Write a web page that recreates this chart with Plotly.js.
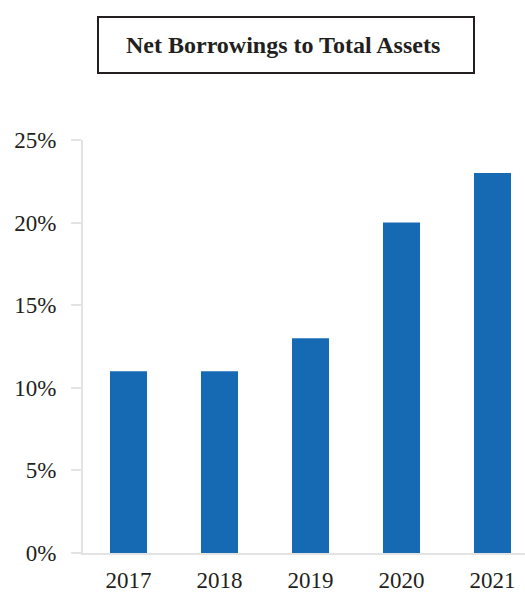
<!DOCTYPE html>
<html>
<head>
<meta charset="utf-8">
<script src="https://cdn.plot.ly/plotly-3.0.1.min.js"></script>
<style>
  html, body { margin: 0; padding: 0; background: #ffffff; }
  #chart { width: 525px; height: 592px; }
</style>
</head>
<body>
<div id="chart"></div>
<script>
// Net borrowings as a share of total assets, by fiscal year
const years = ['2017', '2018', '2019', '2020', '2021'];
const ratioPct = [11, 11, 13, 20, 23];
const yTicks = [0, 5, 10, 15, 20, 25];
const chartTitle = 'Net Borrowings to Total Assets';

const W = 525, H = 592;
const M = { l: 83, r: 0, t: 140, b: 39 };
const plotW = W - M.l - M.r;
const plotH = H - M.t - M.b;
// pixel position -> paper fraction, for the framed heading
const px = x => (x - M.l) / plotW;
const py = y => (H - M.b - y) / plotH;

const ink = '#231f20';
const axisGrey = '#e3e3e3';
const serif = '"Liberation Serif", "Times New Roman", serif';

const trace = {
  type: 'bar',
  x: years,
  y: ratioPct,
  marker: { color: '#166ab4' },
  hoverinfo: 'skip'
};

const layout = {
  width: W,
  height: H,
  margin: M,
  paper_bgcolor: '#ffffff',
  plot_bgcolor: '#ffffff',
  showlegend: false,
  bargap: 0.593,
  font: { family: serif, color: ink, size: 23 },
  xaxis: {
    type: 'category',
    range: [-0.5, 4.357],
    showline: true,
    linecolor: axisGrey,
    linewidth: 2,
    showgrid: false,
    zeroline: false,
    ticks: '',
    ticklabelstandoff: 5,
    tickfont: { family: serif, size: 23, color: ink },
    fixedrange: true
  },
  yaxis: {
    range: [0, 25],
    tickvals: yTicks,
    ticktext: yTicks.map(v => v + '%'),
    showline: true,
    linecolor: axisGrey,
    linewidth: 2,
    ticks: 'outside',
    ticklen: 10,
    tickwidth: 2,
    tickcolor: axisGrey,
    ticklabelstandoff: 10,
    showgrid: false,
    zeroline: false,
    tickfont: { family: serif, size: 23, color: ink },
    fixedrange: true
  },
  shapes: [{
    type: 'rect',
    xref: 'paper', yref: 'paper',
    x0: px(98), x1: px(474),
    y0: py(73), y1: py(17),
    line: { color: ink, width: 2 },
    fillcolor: 'rgba(0,0,0,0)',
    layer: 'above'
  }],
  annotations: [{
    xref: 'paper', yref: 'paper',
    x: px(283), y: py(45),
    xanchor: 'center', yanchor: 'middle',
    text: '<b>' + chartTitle + '</b>',
    showarrow: false,
    font: { family: serif, size: 24, color: ink }
  }]
};

Plotly.newPlot('chart', [trace], layout, { displayModeBar: false, staticPlot: true });
</script>
</body>
</html>
